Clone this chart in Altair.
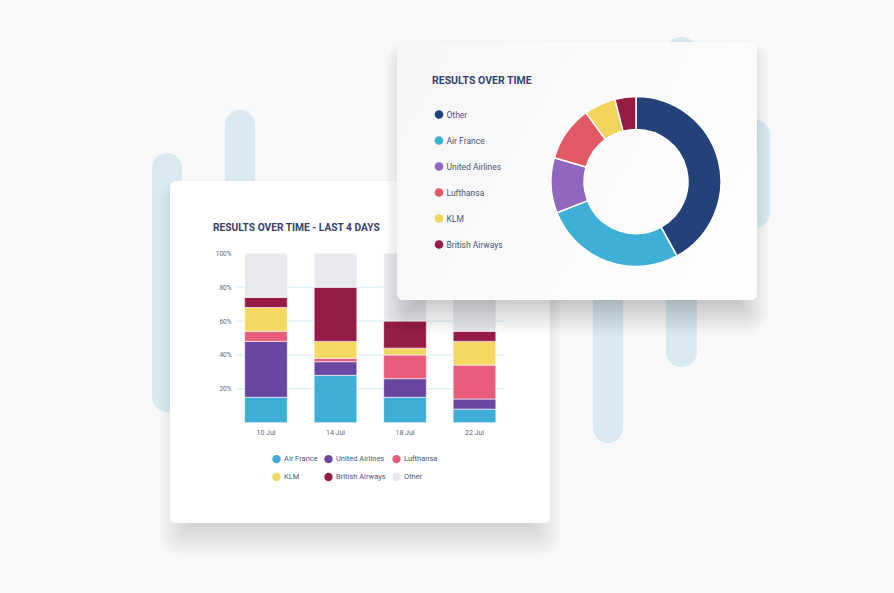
import altair as alt
import pandas as pd

# ---------------- data ----------------
dates = ["10 Jul", "14 Jul", "18 Jul", "22 Jul"]
airlines = ["Air France", "United Airlines", "Lufthansa", "KLM", "British Airways", "Other"]
air_france = [15, 28, 15, 8]
united_airlines = [33, 8, 11, 6]
lufthansa = [6, 2, 14, 20]
klm = [14, 10, 4, 14]
british_airways = [6, 32, 16, 6]
other = [26, 20, 40, 46]
bar_colors = ["#3eaed6", "#6a46a3", "#e85d7b", "#f5d862", "#961c47", "#e8e9ee"]

y_tick_values = [20, 40, 60, 80, 100]
grid_values = [20, 40, 60, 80]

donut_labels = ["Other", "Air France", "United Airlines", "Lufthansa", "KLM", "British Airways"]
donut_values = [42, 27, 10.5, 10.5, 6, 4]
donut_colors = ["#23427a", "#3eb0d8", "#9166bf", "#e05965", "#f2d35b", "#941c47"]

title_left = "RESULTS OVER TIME - LAST 4 DAYS"
title_right = "RESULTS OVER TIME"

# ---------------- tables ----------------
series = [air_france, united_airlines, lufthansa, klm, british_airways, other]
rows = []
for i, name in enumerate(airlines):
    for d, v in zip(dates, series[i]):
        rows.append({"date": d, "airline": name, "value": v, "idx": i})
bar_df = pd.DataFrame(rows)
donut_df = pd.DataFrame({"airline": donut_labels, "share": donut_values,
                         "idx": list(range(len(donut_labels)))})
grid_df = pd.DataFrame({"value": grid_values})

FONT = "Roboto"
TITLE_COLOR = "#33436f"
LABEL_COLOR = "#4d5573"

dummy = alt.Data(values=[{"k": 0}])


def rect(x0, y0, x1, y1, color, r=0, opacity=1.0):
    return alt.Chart(dummy).mark_rect(cornerRadius=r, fill=color, opacity=opacity).encode(
        x=alt.value(x0), x2=alt.value(x1), y=alt.value(y0), y2=alt.value(y1))


def shadow(x0, y0, x1, y1, dy, blur, n, total, inset=6, r=6):
    # stacked translucent rects approximating a blurred drop shadow
    out = []
    a = total / n
    for i in range(n):
        e = -blur / 2 + blur * (i + 0.5) / n
        out.append(rect(x0 + inset - e, y0 + dy - e, x1 - inset + e, y1 + dy + e,
                        "#000000", r=max(r + e, 0), opacity=a))
    return out


layers = []
# background pills
pill = "#d9e9f1"
for (x0, y0, x1, y1) in [(152, 153, 182, 412), (225, 110, 255, 330), (593, 200, 623, 443),
                         (666, 37, 697, 367), (740, 120, 770, 228)]:
    layers.append(rect(x0, y0, x1, y1, pill, r=15))

# card 1
layers += shadow(170, 181, 550, 523, 16, 38, 14, 0.14)
layers.append(rect(170, 181, 550, 523, "#ffffff", r=6))

xs = alt.Scale(domain=dates, range=[231.25, 509.25], paddingInner=0.386, paddingOuter=0.193)
ys = alt.Scale(domain=[0, 100], range=[422.7, 253.3], nice=False)
yaxis = alt.Axis(values=y_tick_values, labelExpr="datum.value + '%'", orient="left", offset=-232,
                 domain=False, ticks=False, grid=False, labelPadding=1, title=None,
                 labelFontSize=6.5, labelColor="#5f667e", labelFont=FONT, zindex=1)
xaxis = alt.Axis(orient="bottom", offset=-170.3, domain=False, ticks=False, grid=False,
                 labelPadding=6, title=None, labelAngle=0, labelFontSize=7,
                 labelColor="#5f667e", labelFont=FONT, zindex=1)

grid = alt.Chart(grid_df).mark_rule(color="#d3edf4", strokeWidth=1).encode(
    y=alt.Y("value:Q", scale=ys, axis=yaxis), x=alt.value(237), x2=alt.value(505))
layers.append(grid)

bar_legend = alt.Legend(orient="none", legendX=272, legendY=454.5, columns=3, direction="horizontal",
                        title=None, symbolType="circle", symbolSize=70, symbolStrokeWidth=0,
                        labelFontSize=7.5, labelColor=LABEL_COLOR, labelFont=FONT,
                        columnPadding=6, rowPadding=9, labelOffset=3)
bars = alt.Chart(bar_df).mark_bar(stroke="#ffffff", strokeWidth=0.6).encode(
    x=alt.X("date:N", scale=xs, axis=xaxis),
    y=alt.Y("value:Q", stack="zero", scale=ys, axis=yaxis),
    color=alt.Color("airline:N", scale=alt.Scale(domain=airlines, range=bar_colors), legend=bar_legend),
    order=alt.Order("idx:Q", sort="ascending"),
)
layers.append(bars)
layers.append(alt.Chart(dummy).mark_text(align="left", baseline="middle", font=FONT, fontWeight="bold",
                                         fontSize=10.2, color=TITLE_COLOR, text=title_left).encode(
    x=alt.value(213), y=alt.value(228)))

# card 2
layers += shadow(397, 42, 757, 300, 16, 38, 14, 0.2)
card2_fill = alt.LinearGradient(gradient="linear", x1=0, y1=0, x2=1, y2=0.4,
                                stops=[alt.GradientStop(offset=0, color="#f6f6f8"),
                                       alt.GradientStop(offset=1, color="#fdfdfd")])
layers.append(rect(397, 42, 757, 300, card2_fill, r=6))
layers.append(alt.Chart(dummy).mark_text(align="left", baseline="middle", font=FONT, fontWeight="bold",
                                         fontSize=10.5, color=TITLE_COLOR, text=title_right).encode(
    x=alt.value(432), y=alt.value(81)))

donut_legend = alt.Legend(orient="none", legendX=434.5, legendY=110, direction="vertical",
                          title=None, symbolType="circle", symbolSize=75, symbolStrokeWidth=0,
                          labelFontSize=8.5, labelColor=LABEL_COLOR, labelFont=FONT,
                          rowPadding=17, labelOffset=3)
donut = alt.Chart(donut_df).mark_arc(innerRadius=52, outerRadius=85, stroke="#ffffff", strokeWidth=1.5).encode(
    theta=alt.Theta("share:Q", stack=True),
    color=alt.Color("airline:N", scale=alt.Scale(domain=donut_labels, range=donut_colors), legend=donut_legend),
    order=alt.Order("idx:Q", sort="ascending"),
    x=alt.value(636), y=alt.value(181.5),
)
layers.append(donut)

chart = alt.layer(*layers).resolve_scale(color="independent").properties(
    width=894, height=593, autosize=alt.AutoSizeParams(type="none"), padding=0,
    background="#f8f8f9",
).configure_view(strokeWidth=0)

chart.save("out.html", embed_options={"renderer": "svg", "actions": False})
